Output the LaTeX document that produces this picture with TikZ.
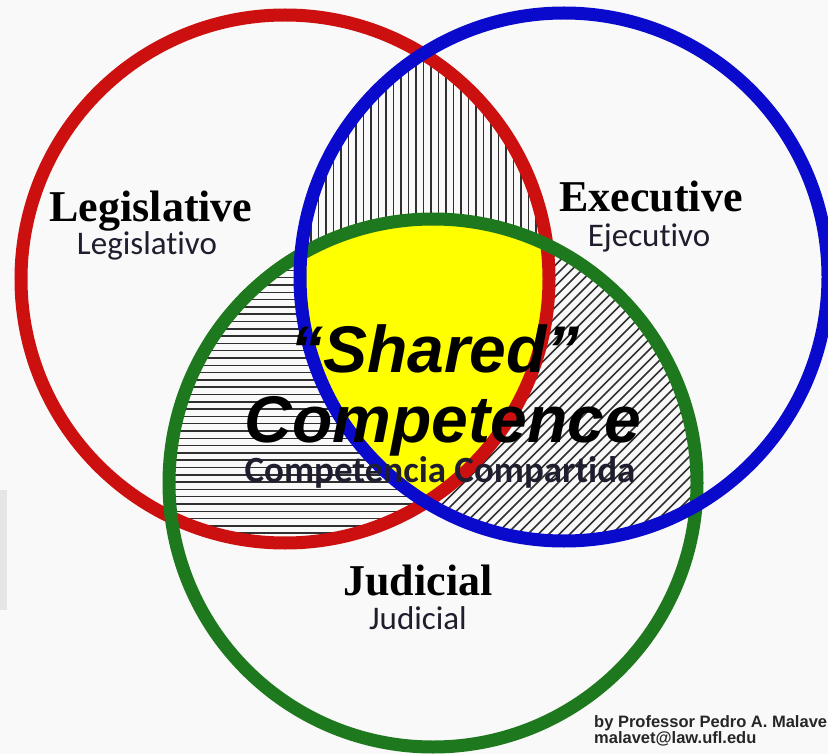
\documentclass[tikz,border=0pt]{standalone}
\usepackage{fontspec}
\setmainfont{Liberation Serif}
\newfontfamily\calibri[Ligatures={NoCommon}]{Carlito}
\newfontfamily\arial{Liberation Sans}
\usepackage{tikz}
\usetikzlibrary{positioning}
\definecolor{paper}{HTML}{F9F9F9}
\definecolor{legred}{HTML}{CC1010}
\definecolor{exeblue}{HTML}{0A0ACC}
\definecolor{judgreen}{HTML}{1E781E}
\definecolor{sharedyellow}{HTML}{FFFF00}
\definecolor{hatchgray}{HTML}{303030}
\definecolor{ink}{HTML}{1E1E2E}
\newcommand{\INK}[1]{\textcolor{ink}{#1}}
\tikzset{
  ring/.style={draw, line width=13pt, circle, minimum size=528pt, inner sep=0pt},
  hatchline/.style={draw=hatchgray, line width=1.5pt},
  branch/.style={font=\fontsize{44}{44}\selectfont\bfseries, inner sep=0pt, anchor=base},
  rama/.style={font=\calibri\fontsize{33}{33}\selectfont, inner sep=0pt, anchor=base},
  credit/.style={font=\arial\bfseries\fontsize{16.5}{16.5}\selectfont, text=black!85, inner sep=0pt, anchor=base west}
}

\begin{document}
\begin{tikzpicture}[x=1pt, y=-1pt]
\newcommand\R{264pt}

\fill[paper] (0,0) rectangle (828,754);
\fill[black!10] (0,490) rectangle (7,610);
\useasboundingbox (0,0) rectangle (828,754);

\coordinate (cL) at (285,279);
\coordinate (cE) at (564,277);
\coordinate (cJ) at (433,483);

% legislative and executive: vertical lines
\begin{scope}
\clip (cL) circle[radius=\R];
\clip (cE) circle[radius=\R];
\foreach \x in {296,303.5,...,560} \draw[hatchline] (\x,0) -- (\x,560);
\end{scope}

% legislative and judicial: horizontal lines
\begin{scope}
\clip (cL) circle[radius=\R];
\clip (cJ) circle[radius=\R];
\foreach \y in {212,219.3,...,560} \draw[hatchline] (150,\y) -- (560,\y);
\end{scope}

% executive and judicial: slanted lines
\begin{scope}
\clip (cE) circle[radius=\R];
\clip (cJ) circle[radius=\R];
\foreach \x in {0,10.5,...,780} \draw[hatchline] (\x,600) -- ++(420,-420);
\end{scope}

% all three
\begin{scope}
\clip (cL) circle[radius=\R];
\clip (cE) circle[radius=\R];
\fill[sharedyellow] (cJ) circle[radius=\R];
\end{scope}

\node[ring, draw=legred] (legRing) at (cL) {};
\node[ring, draw=judgreen] (judRing) at (cJ) {};
\node[ring, draw=exeblue] (exeRing) at (cE) {};

\node[branch] (legis) at (151,222) {Legislative};
\node[rama] (legisEs) at ([xshift=-4pt, yshift=-33pt]legis.base) {\INK{Legislativo}};

\node[branch] (exec) at (651,212) {Executive};
\node[rama] (execEs) at ([xshift=-2pt, yshift=-35pt]exec.base) {\INK{Ejecutivo}};

\node[branch] (judic) at (418,595) {Judicial};
\node[rama] (judicEs) at ([yshift=-34pt]judic.base) {\INK{Judicial}};

\node[font=\arial\bfseries\itshape\fontsize{66}{66}\selectfont, inner sep=0pt, anchor=base]
  (shared) at (435,373) {“Shared”};
\node[font=\arial\bfseries\itshape\fontsize{66}{66}\selectfont, inner sep=0pt, anchor=base]
  (compet) at ([xshift=8pt, yshift=-69pt]shared.base) {Competence};
\node[font=\calibri\bfseries\fontsize{37}{37}\selectfont, inner sep=0pt, anchor=base]
  (competEs) at ([xshift=-3pt, yshift=-40pt]compet.base) {\INK{Competencia Compartida}};

\node[credit] (author) at (594,727) {by Professor Pedro A. Malave};
\node[credit] (email) at ([yshift=-16pt]author.base west) {malavet@law.ufl.edu};
\end{tikzpicture}
\end{document}
